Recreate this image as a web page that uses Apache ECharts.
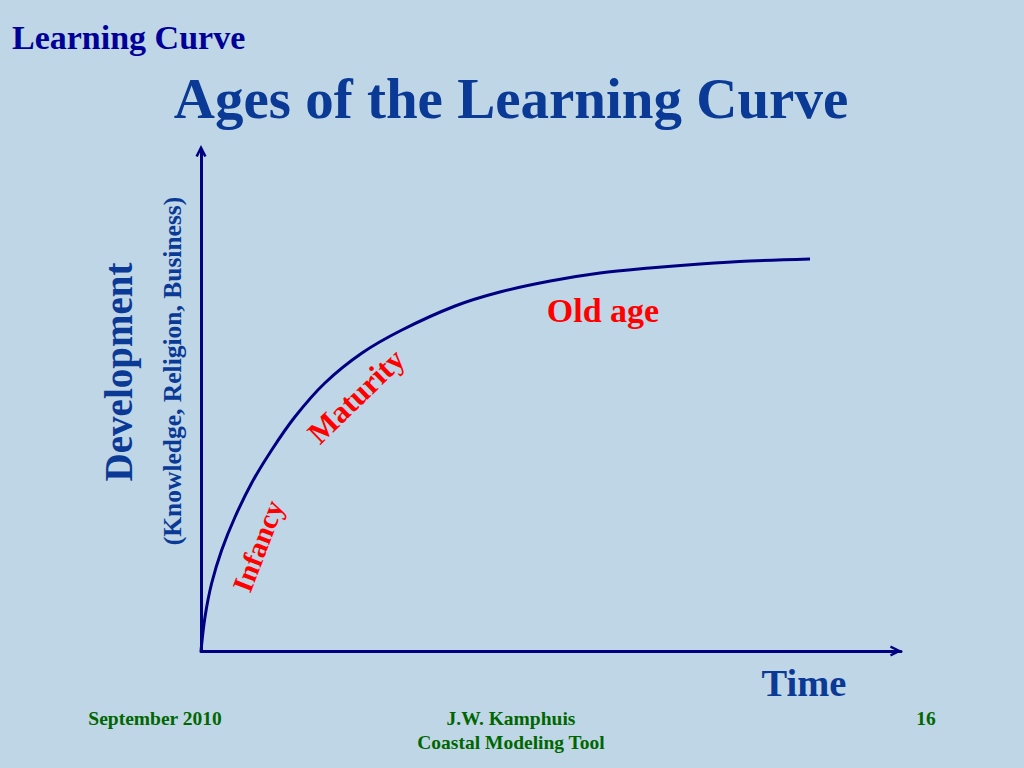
<!DOCTYPE html>
<html>
<head>
<meta charset="utf-8">
<script src="https://cdn.jsdelivr.net/npm/echarts@6/dist/echarts.min.js"></script>
<style>
html,body{margin:0;padding:0;background:#bed6e5;}
#chart{width:1024px;height:768px;}
</style>
</head>
<body>
<div id="chart"></div>
<script>
// Learning curve: time (x) vs development (y), arbitrary units 0..100
var timeValues = [0, 0.57, 1.53, 2.96, 4.86, 7.24, 10.1, 13.4, 17.7, 23.0, 28.7, 36.3, 42.7, 49.9, 57.0, 64.1, 71.3, 78.4, 87.0];
var developmentValues = [0, 6.8, 13.6, 20.2, 26.8, 33.6, 40.2, 46.8, 53.6, 59.6, 64.2, 69.0, 71.8, 74.0, 75.6, 76.6, 77.4, 78.0, 78.4];
var stageLabels = ['Infancy', 'Maturity', 'Old age'];

var curveData = timeValues.map(function (t, i) { return [t, developmentValues[i]]; });

var serif = '"Liberation Serif", "Times New Roman", serif';
var navy = '#000080';
var chevron = 'path://M0,12 L6,0 L12,12 L9.4,13 L6,5.6 L2.6,13 Z';

var chart = echarts.init(document.getElementById('chart'), null, {renderer: 'svg'});
chart.setOption({
  backgroundColor: '#bed6e5',
  animation: false,
  grid: {left: 201, top: 151, width: 700, height: 500},
  xAxis: {
    type: 'value', min: 0, max: 100,
    axisLine: {show: true, lineStyle: {color: navy, width: 3}, symbol: ['none', chevron], symbolSize: [13, 12], symbolOffset: [0, -5]},
    axisTick: {show: false}, axisLabel: {show: false}, splitLine: {show: false}
  },
  yAxis: {
    type: 'value', min: 0, max: 100,
    axisLine: {show: true, lineStyle: {color: navy, width: 3}, symbol: ['none', chevron], symbolSize: [13, 12], symbolOffset: [0, 0]},
    axisTick: {show: false}, axisLabel: {show: false}, splitLine: {show: false}
  },
  series: [{
    type: 'line', data: curveData, smooth: 0.35, showSymbol: false,
    lineStyle: {color: navy, width: 3}
  }],
  graphic: [
    {type: 'text', x: 12, y: 37, style: {text: 'Learning Curve', font: 'bold 34px ' + serif, fill: '#000099', align: 'left', verticalAlign: 'middle'}},
    {type: 'text', x: 511, y: 98, style: {text: 'Ages of the Learning Curve', font: 'bold 57px ' + serif, fill: '#0a3996', align: 'center', verticalAlign: 'middle'}},
    {type: 'text', x: 118, y: 372, rotation: Math.PI / 2, style: {text: 'Development', font: 'bold 39px ' + serif, fill: '#0a3996', align: 'center', verticalAlign: 'middle'}},
    {type: 'text', x: 172, y: 371, rotation: Math.PI / 2, style: {text: '(Knowledge, Religion, Business)', font: 'bold 25.5px ' + serif, fill: '#0a3996', align: 'center', verticalAlign: 'middle'}},
    {type: 'text', x: 804, y: 683, style: {text: 'Time', font: 'bold 38.5px ' + serif, fill: '#0a3996', align: 'center', verticalAlign: 'middle'}},
    {type: 'text', x: 258, y: 546, rotation: 69 * Math.PI / 180, style: {text: stageLabels[0], font: 'bold 29px ' + serif, fill: '#ff0000', align: 'center', verticalAlign: 'middle'}},
    {type: 'text', x: 356, y: 396, rotation: 44 * Math.PI / 180, style: {text: stageLabels[1], font: 'bold 31px ' + serif, fill: '#ff0000', align: 'center', verticalAlign: 'middle'}},
    {type: 'text', x: 603, y: 310, style: {text: stageLabels[2], font: 'bold 34px ' + serif, fill: '#ff0000', align: 'center', verticalAlign: 'middle'}},
    {type: 'text', x: 155, y: 718, style: {text: 'September 2010', font: 'bold 19.5px ' + serif, fill: '#006600', align: 'center', verticalAlign: 'middle'}},
    {type: 'text', x: 511, y: 718, style: {text: 'J.W. Kamphuis', font: 'bold 19.5px ' + serif, fill: '#006600', align: 'center', verticalAlign: 'middle'}},
    {type: 'text', x: 511, y: 742, style: {text: 'Coastal Modeling Tool', font: 'bold 19.5px ' + serif, fill: '#006600', align: 'center', verticalAlign: 'middle'}},
    {type: 'text', x: 926, y: 718, style: {text: '16', font: 'bold 19.5px ' + serif, fill: '#006600', align: 'center', verticalAlign: 'middle'}}
  ]
});
</script>
</body>
</html>
